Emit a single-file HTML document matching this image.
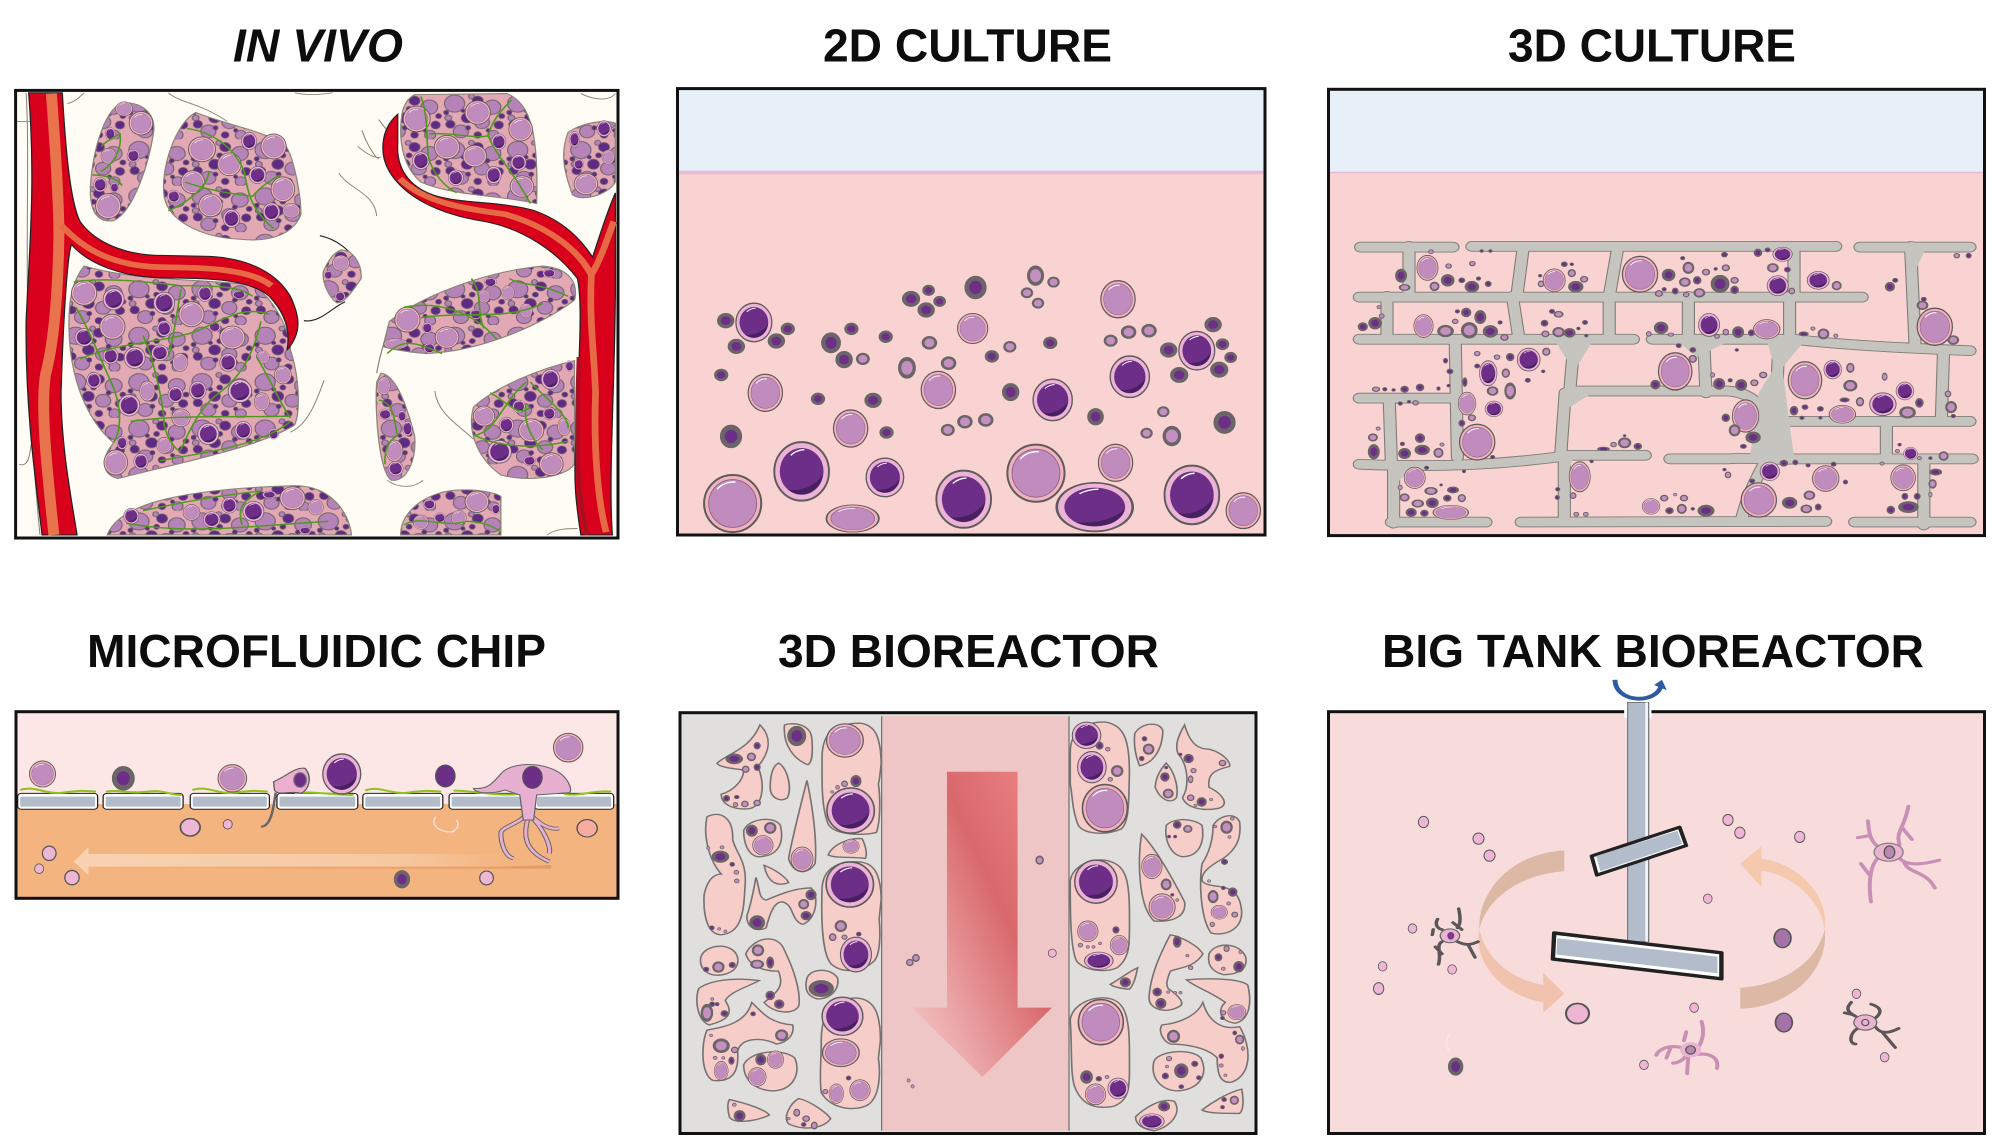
<!DOCTYPE html>
<html><head><meta charset="utf-8"><style>
html,body{margin:0;padding:0;background:#fff}
svg{display:block}
text{font-family:"Liberation Sans",sans-serif;font-weight:bold;font-size:46px;fill:#0d0d0d}
.lb{stroke:#757270;stroke-width:4;fill:#f6cdc9}
.tl{fill:url(#tis);stroke:#8a8578;stroke-width:3}
.gr{fill:none;stroke:#4f9a1c;stroke-width:4}
.fb{fill:none;stroke:#8a8578;stroke-width:2.5}
</style></head><body>
<svg xmlns="http://www.w3.org/2000/svg" width="2000" height="1144" viewBox="0 0 2000 1144">
<defs>
<g id="L"><circle r="1" fill="#f2b4bc" stroke="#5f5a5c" stroke-width=".07"/><circle r=".84" fill="#bf8cbd" stroke="#8b5f88" stroke-width=".03"/><path d="M-.55-.5A.8.8 0 0 1 .1-.75" fill="none" stroke="#fff" stroke-width=".05"/></g>
<g id="D"><circle r="1" fill="#ecb4d4" stroke="#5f5a5c" stroke-width=".07"/><circle r=".8" fill="#6c2e86"/><path d="M.78.1A.8.8 0 0 1-.5.62C0 .7.5.5.78.1Z" fill="#47205f"/><path d="M-.4-.55A.8.8 0 0 1 .1-.74" fill="none" stroke="#fff" stroke-width=".05"/></g>
<g id="s"><circle r=".76" fill="#6c2e86" stroke="#6b6468" stroke-width=".42"/></g>
<g id="l"><circle r=".78" fill="#c490c0" stroke="#6b6468" stroke-width=".34"/></g>
<g id="c"><circle r=".9" fill="#eeb5d4" stroke="#555" stroke-width=".16"/></g>
<pattern id="tis" patternUnits="userSpaceOnUse" width="150" height="130">
<rect width="150" height="130" fill="#e2a8b4"/>
<g fill="#b583b8" stroke="#6d5f68" stroke-width="2.5"><circle cx="30" cy="30" r="24"/><circle cx="120" cy="40" r="20"/><circle cx="95" cy="82" r="18"/><circle cx="45" cy="108" r="18"/><circle cx="122" cy="118" r="13"/><circle cx="15" cy="70" r="8"/><circle cx="70" cy="10" r="7"/></g>
<g fill="#5f2a85" stroke="#6d5f68" stroke-width="2"><circle cx="85" cy="22" r="13"/><circle cx="60" cy="70" r="14"/><circle cx="20" cy="88" r="11"/><circle cx="135" cy="90" r="11"/><circle cx="85" cy="118" r="9"/><circle cx="10" cy="55" r="6"/><circle cx="72" cy="45" r="7"/><circle cx="108" cy="60" r="6"/><circle cx="62" cy="98" r="6"/><circle cx="142" cy="65" r="7"/><circle cx="50" cy="50" r="5"/><circle cx="110" cy="105" r="5"/></g>
</pattern>
<linearGradient id="ar" x1="1" y1="0" x2="0" y2="1"><stop offset="0" stop-color="#f08888"/><stop offset=".4" stop-color="#d8686c"/><stop offset=".75" stop-color="#eba6a8"/><stop offset="1" stop-color="#f3cfcd"/></linearGradient>
<linearGradient id="ar4" x1="0" x2="1" y1="0" y2="0"><stop offset="0" stop-color="#f8d3b3"/><stop offset=".75" stop-color="#f6c8a0"/><stop offset="1" stop-color="#f4b47f"/></linearGradient>
<linearGradient id="ar4b" x1="0" x2="1" y1="0" y2="0"><stop offset="0" stop-color="#f4b47f"/><stop offset="1" stop-color="#e49a63"/></linearGradient>
<path id="sc" fill="none" stroke-linecap="round" d="M115,692H325M368,690H1195M1250,692H1500M112,832H450L700,832H1255M112,950H735M778,950H1100C1200,965 1350,975 1500,982M112,1115H340M590,1095H950C1010,1100 1040,1150 1040,1200M1085,1180H1500M112,1300C300,1310 450,1300 590,1275H762M818,1285H950C1000,1280 1050,1290 1100,1285H1505M185,1462H400M480,1462L1172,1460M1238,1462H1500M225,690L225,830M485,690L470,830M700,690L680,830M1100,690L1100,830M1365,690L1375,960M175,830V950M460,830L475,950M680,830V945M860,830V950M1090,830V960M330,950L335,1280M600,960L590,1100M580,1100L570,1270M895,960L900,1100M1065,980C1060,1100 1060,1200 1040,1280C1010,1350 990,1400 980,1460M1440,980L1435,1170M1310,1180V1280M180,1115L185,1300M190,1300V1465M578,1280V1460M1395,1300V1470"/>
</defs>

<rect width="2000" height="1144" fill="#fff"/>

<!-- PANEL 1 -->
<g transform="scale(.4209 .3571)">
<rect x="37" y="253" width="1431" height="1254" fill="#fefcf4"/>
<path class="fb" d="M62,260C75,500 45,900 95,1498M160,290C180,285 190,270 200,260M400,260C430,290 470,285 540,340M700,260C730,268 760,265 790,260M1380,262C1420,285 1450,280 1462,262M40,340H80M900,335C915,360 930,380 945,400M860,365C870,400 890,440 900,445M850,410C870,430 890,445 905,440M805,485C830,530 890,540 895,605M1033,1095C1040,1160 1090,1190 1125,1230M770,1065C750,1130 730,1190 690,1210M920,1345C950,1370 985,1365 1005,1345M1300,1498C1320,1480 1350,1480 1372,1480M45,1300C70,1310 70,1270 75,1240"/>
<path d="M760,660C800,670 830,700 845,730M722,898C760,905 790,860 820,845" fill="none" stroke="#222" stroke-width="3"/>
<path class="tl" d="M290,288C340,285 370,320 365,370C355,450 320,590 270,618C230,625 212,590 215,520C220,430 245,310 290,288Z"/>
<path class="tl" d="M465,315C540,350 640,370 680,410C700,450 715,550 715,600C700,650 650,680 570,670C480,665 400,620 390,550C380,470 420,340 465,315Z"/>
<path class="tl" d="M985,265L1205,262C1260,290 1280,370 1275,570C1180,545 1080,550 1000,510C960,470 945,400 955,320C960,290 970,275 985,265Z"/>
<path class="tl" d="M1350,370C1390,340 1440,335 1462,345L1462,510C1440,550 1380,565 1360,545C1340,480 1330,430 1350,370Z"/>
<path class="tl" d="M200,745C330,790 500,780 600,800C650,830 690,930 690,980C710,1050 715,1150 700,1190C620,1250 450,1290 280,1340C240,1330 240,1280 270,1240C200,1170 170,1050 165,950C160,850 170,790 200,745Z"/>
<path class="tl" d="M810,700C840,700 860,740 858,780C840,810 820,850 800,848C780,830 765,790 768,760C780,730 790,710 810,700Z"/>
<path class="tl" d="M925,900C1000,830 1150,760 1290,745C1350,750 1375,790 1365,840C1300,900 1150,985 1010,990C960,985 920,975 910,970Z"/>
<path class="tl" d="M905,1045C940,1050 965,1130 985,1220C990,1280 970,1350 930,1345C900,1320 890,1150 895,1070Z"/>
<path class="tl" d="M1365,1010L1365,1300C1340,1340 1250,1350 1190,1330C1130,1280 1110,1200 1125,1140C1180,1080 1290,1030 1365,1010Z"/>
<path class="tl" d="M255,1498C280,1420 400,1370 700,1360C790,1360 830,1440 835,1498Z"/>
<path class="tl" d="M952,1498C950,1430 1020,1370 1100,1372C1150,1370 1185,1385 1190,1390L1190,1498Z"/>
<path d="M895,1045C900,1010 905,990 910,970" fill="none" stroke="#8a8578" stroke-width="3"/>
<g>
<use href="#L" transform="translate(335 345)scale(28 33)"/><use href="#L" transform="translate(295 305)scale(20 20)"/><use href="#L" transform="translate(257 577)scale(30 35)"/><use href="#D" transform="translate(262 375)scale(12 18)"/><use href="#D" transform="translate(317 436)scale(15 18)"/><use href="#D" transform="translate(238 517)scale(16 20)"/><use href="#L" transform="translate(258 437)scale(18 22)"/><use href="#D" transform="translate(272 525)scale(10 14)"/>
<use href="#L" transform="translate(480 418)scale(32 35)"/><use href="#D" transform="translate(592 395)scale(18 24)"/><use href="#L" transform="translate(650 410)scale(30 35)"/><use href="#L" transform="translate(545 460)scale(28 32)"/><use href="#L" transform="translate(458 510)scale(28 32)"/><use href="#D" transform="translate(612 490)scale(20 24)"/><use href="#L" transform="translate(672 530)scale(28 35)"/><use href="#L" transform="translate(500 575)scale(28 32)"/><use href="#D" transform="translate(550 612)scale(20 25)"/><use href="#D" transform="translate(645 593)scale(20 25)"/><use href="#D" transform="translate(413 550)scale(15 18)"/><use href="#L" transform="translate(692 590)scale(20 20)"/>
<use href="#L" transform="translate(990 333)scale(32 36)"/><use href="#L" transform="translate(1135 315)scale(30 33)"/><use href="#L" transform="translate(1237 362)scale(28 33)"/><use href="#L" transform="translate(1062 412)scale(30 33)"/><use href="#L" transform="translate(1128 437)scale(28 30)"/><use href="#D" transform="translate(1185 397)scale(17 22)"/><use href="#D" transform="translate(1000 450)scale(20 25)"/><use href="#D" transform="translate(1083 498)scale(18 22)"/><use href="#D" transform="translate(1173 490)scale(18 24)"/><use href="#D" transform="translate(1232 455)scale(18 22)"/><use href="#L" transform="translate(1240 522)scale(28 30)"/>
<use href="#D" transform="translate(1435 360)scale(17 22)"/><use href="#D" transform="translate(1365 390)scale(12 22)"/><use href="#L" transform="translate(1392 515)scale(28 30)"/><use href="#D" transform="translate(1375 460)scale(12 15)"/><use href="#L" transform="translate(1445 440)scale(15 20)"/>
<use href="#L" transform="translate(200 820)scale(30 35)"/><use href="#D" transform="translate(270 838)scale(25 30)"/><use href="#D" transform="translate(390 848)scale(25 30)"/><use href="#D" transform="translate(487 822)scale(17 22)"/><use href="#L" transform="translate(455 880)scale(30 35)"/><use href="#L" transform="translate(267 915)scale(30 35)"/><use href="#D" transform="translate(390 920)scale(17 22)"/><use href="#D" transform="translate(200 945)scale(22 25)"/><use href="#L" transform="translate(552 945)scale(30 32)"/><use href="#D" transform="translate(263 997)scale(18 22)"/><use href="#D" transform="translate(320 1002)scale(25 30)"/><use href="#D" transform="translate(380 988)scale(20 22)"/><use href="#D" transform="translate(542 1015)scale(20 25)"/><use href="#L" transform="translate(428 1015)scale(18 25)"/><use href="#D" transform="translate(223 1065)scale(17 22)"/><use href="#D" transform="translate(307 1135)scale(25 30)"/><use href="#D" transform="translate(417 1105)scale(18 22)"/><use href="#D" transform="translate(470 1093)scale(20 25)"/><use href="#D" transform="translate(570 1095)scale(28 32)"/><use href="#L" transform="translate(350 1095)scale(18 28)"/><use href="#L" transform="translate(622 1125)scale(18 25)"/><use href="#L" transform="translate(430 1170)scale(22 25)"/><use href="#D" transform="translate(495 1215)scale(25 30)"/><use href="#D" transform="translate(578 1205)scale(20 25)"/><use href="#L" transform="translate(390 1247)scale(18 22)"/><use href="#D" transform="translate(335 1292)scale(17 22)"/><use href="#L" transform="translate(275 1295)scale(28 35)"/><use href="#L" transform="translate(672 1050)scale(20 25)"/><use href="#D" transform="translate(290 1240)scale(12 18)"/><use href="#D" transform="translate(650 1215)scale(12 15)"/><use href="#L" transform="translate(625 1000)scale(15 18)"/><use href="#D" transform="translate(510 915)scale(14 14)"/><use href="#D" transform="translate(568 825)scale(16 12)"/>
<use href="#L" transform="translate(810 737)scale(20 22)"/><use href="#D" transform="translate(808 830)scale(12 14)"/><use href="#D" transform="translate(780 770)scale(10 12)"/>
<use href="#L" transform="translate(968 895)scale(30 35)"/><use href="#L" transform="translate(1062 945)scale(28 30)"/><use href="#L" transform="translate(940 963)scale(28 15)"/><use href="#D" transform="translate(1015 918)scale(12 15)"/><use href="#D" transform="translate(1165 790)scale(15 13)"/><use href="#L" transform="translate(1207 820)scale(15 20)"/><use href="#L" transform="translate(1250 870)scale(15 20)"/><use href="#D" transform="translate(1130 880)scale(14 14)"/><use href="#D" transform="translate(1305 765)scale(15 12)"/><use href="#D" transform="translate(1020 975)scale(14 14)"/><use href="#L" transform="translate(1150 830)scale(14 18)"/>
<use href="#L" transform="translate(912 1080)scale(15 25)"/><use href="#D" transform="translate(915 1160)scale(15 15)"/><use href="#D" transform="translate(955 1165)scale(10 15)"/><use href="#L" transform="translate(937 1262)scale(20 30)"/><use href="#D" transform="translate(940 1312)scale(18 20)"/><use href="#D" transform="translate(968 1200)scale(12 20)"/>
<use href="#D" transform="translate(1308 1062)scale(22 28)"/><use href="#L" transform="translate(1262 1205)scale(30 32)"/><use href="#D" transform="translate(1203 1190)scale(17 22)"/><use href="#D" transform="translate(1187 1265)scale(28 32)"/><use href="#D" transform="translate(1233 1138)scale(15 18)"/><use href="#L" transform="translate(1310 1300)scale(28 32)"/><use href="#L" transform="translate(1150 1165)scale(25 28)"/><use href="#D" transform="translate(1305 1158)scale(15 18)"/><use href="#D" transform="translate(1258 1290)scale(15 14)"/><use href="#D" transform="translate(1353 1025)scale(10 15)"/><use href="#L" transform="translate(1340 1195)scale(15 25)"/>
<use href="#L" transform="translate(695 1395)scale(30 32)"/><use href="#D" transform="translate(545 1415)scale(18 22)"/><use href="#D" transform="translate(602 1432)scale(25 28)"/><use href="#D" transform="translate(312 1445)scale(18 22)"/><use href="#L" transform="translate(455 1435)scale(20 22)"/><use href="#D" transform="translate(503 1455)scale(20 22)"/><use href="#L" transform="translate(750 1420)scale(18 22)"/><use href="#D" transform="translate(640 1385)scale(16 10)"/><use href="#D" transform="translate(725 1485)scale(14 10)"/>
<use href="#L" transform="translate(1133 1405)scale(28 30)"/><use href="#D" transform="translate(1020 1412)scale(15 14)"/><use href="#D" transform="translate(1045 1450)scale(14 14)"/><use href="#L" transform="translate(1000 1462)scale(18 20)"/><use href="#L" transform="translate(1090 1450)scale(18 20)"/><use href="#D" transform="translate(1178 1425)scale(10 15)"/>
</g>
<path class="gr" d="M175,790C250,775 350,790 430,800C500,800 570,800 600,830M190,1005C300,950 420,960 490,915C550,880 590,860 640,880M620,900C600,1000 570,1060 510,1110C470,1150 440,1230 430,1260M180,860C210,920 230,980 260,1060C290,1130 290,1200 270,1240M340,940C370,1020 390,1150 390,1190C400,1240 420,1260 430,1265M380,1290C470,1270 620,1250 690,1180M310,1180C430,1160 580,1170 690,1165M610,1000C650,1080 670,1140 690,1170M430,810C420,880 410,960 400,1000M445,360C510,370 560,420 580,480C590,550 600,590 650,640M440,510C490,530 530,540 600,550C620,520 650,500 665,490M400,590C440,570 490,530 497,480M1000,270C1020,330 1010,400 1020,450C1040,510 1070,530 1085,540M1020,375C1080,370 1130,390 1160,380C1170,330 1200,300 1215,280M1160,380C1180,440 1220,480 1260,570M920,990C960,945 990,960 1050,990M960,860C1050,840 1130,880 1180,950M1120,780C1150,830 1130,870 1150,920M1210,780C1240,800 1280,790 1350,830M1000,890C1100,870 1200,900 1290,850M900,1120C940,1130 935,1180 945,1220C910,1240 915,1290 915,1300M1125,1220C1180,1210 1190,1130 1250,1070M1130,1220C1180,1250 1270,1260 1350,1235M1250,1130C1240,1200 1280,1250 1290,1260M1260,1070C1300,1120 1350,1160 1350,1200M1165,1100C1210,1130 1230,1170 1260,1140M300,1465C450,1500 620,1470 780,1460M340,1430C420,1410 500,1390 620,1375C560,1410 570,1440 575,1470M960,1470C1000,1440 1050,1480 1110,1460C1150,1460 1180,1480 1190,1490M240,480C270,460 290,420 285,375C260,390 250,400 240,410M220,490C250,490 280,500 290,520"/>
<path d="M68,260L148,260C155,400 165,560 190,620C220,670 280,710 370,715L500,718C600,725 660,770 690,830C710,880 720,930 682,980C690,930 680,880 640,830C590,780 500,780 380,778C290,775 210,740 170,685C160,710 150,900 145,1100C145,1250 170,1400 183,1498L100,1498C85,1350 60,1150 62,900C70,700 85,500 68,260Z" fill="#d9001b" stroke="#222" stroke-width="3"/>
<path d="M122,262C132,420 140,560 140,660C138,800 130,950 108,1050C95,1150 115,1350 128,1498" fill="none" stroke="#e9734d" stroke-width="26"/>
<path d="M145,630C200,700 270,745 380,748C480,750 590,750 645,800" fill="none" stroke="#e56a45" stroke-width="16"/>
<path d="M945,320C905,360 900,430 925,480C960,550 1040,600 1150,620C1240,640 1320,700 1372,780C1385,850 1375,1000 1370,1200C1360,1350 1370,1420 1380,1498L1455,1498C1445,1350 1460,1100 1462,820L1462,540C1440,600 1425,660 1408,720C1380,670 1340,620 1270,590C1200,565 1100,570 1040,550C980,530 940,480 945,400Z" fill="#d9001b" stroke="#222" stroke-width="3"/>
<path d="M950,500C1010,570 1110,585 1200,600C1290,630 1370,690 1405,770M1458,620C1440,680 1425,730 1405,770C1400,900 1410,960 1415,1100C1410,1250 1420,1400 1440,1490" fill="none" stroke="#e56a45" stroke-width="16"/>
<path d="M1375,1000C1370,1200 1365,1350 1395,1498" fill="none" stroke="#a80f20" stroke-width="10"/>
</g>

<!-- PANEL 2 -->
<g transform="translate(660 0)scale(.4082 .3571)">
<rect x="43" y="248" width="1439" height="232" fill="#e7eff8"/>
<rect x="43" y="484" width="1439" height="1014" fill="#f9d3d1"/>
<rect x="43" y="478" width="1439" height="10" fill="#eabbd8"/>
<use href="#L" transform="translate(178 1410)scale(70 80)"/><use href="#D" transform="translate(347 1320)scale(67 82)"/><use href="#D" transform="translate(551 1337)scale(46 54)"/><use href="#L" transform="translate(472 1452)scale(64 38)"/><use href="#D" transform="translate(744 1398)scale(67 80)"/><use href="#L" transform="translate(921 1325)scale(70 80)"/><use href="#D" transform="translate(1065 1420)scale(93 68)"/><use href="#L" transform="translate(1116 1296)scale(42 52)"/><use href="#D" transform="translate(1303 1386)scale(67 82)"/><use href="#L" transform="translate(1429 1430)scale(42 50)"/>
<use href="#D" transform="translate(1151 1055)scale(48 58)"/><use href="#D" transform="translate(962 1120)scale(48 58)"/><use href="#L" transform="translate(682 1092)scale(42 52)"/><use href="#L" transform="translate(467 1200)scale(42 52)"/><use href="#L" transform="translate(258 1100)scale(42 52)"/><use href="#s" transform="translate(174 1222)scale(28 34)"/><use href="#L" transform="translate(766 920)scale(37 42)"/><use href="#L" transform="translate(1122 838)scale(42 52)"/><use href="#D" transform="translate(230 903)scale(44 54)"/><use href="#D" transform="translate(1315 982)scale(44 54)"/><use href="#s" transform="translate(773 805)scale(28 34)"/>
<use href="#s" transform="translate(161 898)scale(22)"/><use href="#s" transform="translate(187 970)scale(22)"/><use href="#s" transform="translate(285 955)scale(22)"/><use href="#s" transform="translate(313 921)scale(18)"/><use href="#s" transform="translate(419 960)scale(25 30)"/><use href="#s" transform="translate(469 921)scale(18)"/><use href="#s" transform="translate(451 1007)scale(22 25)"/><use href="#s" transform="translate(553 943)scale(18)"/><use href="#s" transform="translate(150 1050)scale(18)"/><use href="#s" transform="translate(387 1117)scale(18)"/><use href="#s" transform="translate(522 1121)scale(22)"/><use href="#s" transform="translate(555 1211)scale(18)"/><use href="#s" transform="translate(859 1098)scale(22 26)"/><use href="#s" transform="translate(813 998)scale(18)"/><use href="#s" transform="translate(956 960)scale(18)"/><use href="#s" transform="translate(1067 1167)scale(21 25)"/><use href="#s" transform="translate(1383 1183)scale(28 33)"/><use href="#s" transform="translate(1246 980)scale(22)"/><use href="#s" transform="translate(1355 909)scale(22)"/><use href="#s" transform="translate(1378 964)scale(17)"/><use href="#s" transform="translate(1398 1001)scale(16)"/><use href="#s" transform="translate(1370 1035)scale(23)"/><use href="#s" transform="translate(1272 1050)scale(23)"/><use href="#s" transform="translate(615 837)scale(23)"/><use href="#s" transform="translate(658 813)scale(16)"/><use href="#s" transform="translate(685 844)scale(16)"/><use href="#s" transform="translate(652 868)scale(22)"/>
<use href="#l" transform="translate(497 1005)scale(18)"/><use href="#l" transform="translate(660 960)scale(20)"/><use href="#l" transform="translate(707 1017)scale(20)"/><use href="#l" transform="translate(605 1030)scale(23 32)"/><use href="#l" transform="translate(857 971)scale(17)"/><use href="#l" transform="translate(705 1204)scale(18)"/><use href="#l" transform="translate(747 1181)scale(20)"/><use href="#l" transform="translate(798 1176)scale(20)"/><use href="#l" transform="translate(920 772)scale(22 30)"/><use href="#l" transform="translate(964 790)scale(16)"/><use href="#l" transform="translate(899 820)scale(16)"/><use href="#l" transform="translate(926 849)scale(16)"/><use href="#l" transform="translate(1104 954)scale(18)"/><use href="#l" transform="translate(1148 930)scale(20)"/><use href="#l" transform="translate(1198 926)scale(20)"/><use href="#l" transform="translate(1233 1153)scale(16)"/><use href="#l" transform="translate(1192 1213)scale(16)"/><use href="#l" transform="translate(1254 1221)scale(24 30)"/>
</g>

<!-- PANEL 3 -->
<g transform="translate(1310 0)scale(.44 .3571)">
<rect x="42" y="250" width="1491" height="232" fill="#e7eff8"/>
<rect x="42" y="484" width="1491" height="1016" fill="#f9d3d1"/>
<rect x="42" y="481" width="1491" height="4" fill="#eabbd8"/>
<use href="#sc" stroke="#7f7d78" stroke-width="30"/>
<use href="#sc" stroke="#c6c4bf" stroke-width="25"/>
<path d="M560,960H640L600,1040ZM1040,960H1120L1060,1050ZM1000,1285L1080,1180L1080,1280ZM840,960L960,950L880,1000ZM580,1105L650,1095L590,1140ZM200,1310L240,1300L200,1350ZM560,1280L600,1275L585,1330ZM1350,700L1400,695L1375,760ZM1020,1100L1070,1000L1100,1280L1000,1280Z" fill="#c6c4bf"/>
<use href="#L" transform="translate(267 750)scale(24 35)"/><use href="#s" transform="translate(207 772)scale(14 20)"/><use href="#l" transform="translate(215 805)scale(14 10)"/><use href="#s" transform="translate(313 785)scale(16 18)"/><use href="#s" transform="translate(368 803)scale(17 17)"/><use href="#s" transform="translate(405 795)scale(8 9)"/><use href="#l" transform="translate(283 802)scale(12 14)"/><use href="#s" transform="translate(345 785)scale(8 8)"/><use href="#s" transform="translate(383 780)scale(6 6)"/><use href="#l" transform="translate(315 745)scale(8 8)"/><use href="#l" transform="translate(369 738)scale(8 8)"/><use href="#l" transform="translate(275 705)scale(7 7)"/><use href="#s" transform="translate(390 703)scale(5 5)"/><use href="#s" transform="translate(410 703)scale(5 5)"/>
<use href="#L" transform="translate(555 785)scale(25 32)"/><use href="#s" transform="translate(604 803)scale(18 17)"/><use href="#l" transform="translate(595 765)scale(10 12)"/><use href="#l" transform="translate(623 782)scale(10 10)"/><use href="#s" transform="translate(578 740)scale(8 8)"/><use href="#s" transform="translate(595 740)scale(5 5)"/><use href="#l" transform="translate(525 795)scale(8 10)"/><use href="#s" transform="translate(523 772)scale(5 5)"/>
<use href="#L" transform="translate(750 768)scale(40 50)"/><use href="#s" transform="translate(815 770)scale(16 18)"/><use href="#l" transform="translate(860 750)scale(14 18)"/><use href="#s" transform="translate(932 795)scale(22 26)"/><use href="#l" transform="translate(852 790)scale(14 14)"/><use href="#l" transform="translate(885 820)scale(14 14)"/><use href="#l" transform="translate(945 750)scale(10 10)"/><use href="#s" transform="translate(847 723)scale(6 6)"/><use href="#s" transform="translate(942 713)scale(8 8)"/><use href="#s" transform="translate(880 785)scale(10 12)"/><use href="#s" transform="translate(830 815)scale(8 10)"/><use href="#s" transform="translate(805 810)scale(6 6)"/><use href="#l" transform="translate(793 822)scale(10 10)"/><use href="#l" transform="translate(855 825)scale(8 8)"/><use href="#l" transform="translate(900 762)scale(10 10)"/><use href="#s" transform="translate(922 753)scale(5 5)"/><use href="#s" transform="translate(965 812)scale(10 12)"/><use href="#l" transform="translate(965 785)scale(10 10)"/>
<use href="#D" transform="translate(1074 712)scale(22 20)"/><use href="#s" transform="translate(1018 708)scale(10 12)"/><use href="#s" transform="translate(1040 700)scale(7 7)"/><use href="#l" transform="translate(1052 750)scale(14 14)"/><use href="#D" transform="translate(1063 800)scale(24 28)"/><use href="#s" transform="translate(1085 755)scale(8 8)"/><use href="#l" transform="translate(1095 815)scale(8 10)"/>
<use href="#D" transform="translate(1155 785)scale(25 25)"/><use href="#l" transform="translate(1197 800)scale(12 14)"/><use href="#s" transform="translate(1318 803)scale(12 14)"/><use href="#s" transform="translate(1330 785)scale(7 7)"/><use href="#l" transform="translate(1470 716)scale(8 8)"/><use href="#s" transform="translate(1497 716)scale(7 8)"/>
<use href="#s" transform="translate(148 905)scale(16 18)"/><use href="#s" transform="translate(120 915)scale(12 13)"/><use href="#l" transform="translate(157 860)scale(6 6)"/><use href="#l" transform="translate(163 885)scale(7 8)"/>
<use href="#L" transform="translate(258 913)scale(22 32)"/><use href="#l" transform="translate(308 927)scale(20 18)"/><use href="#l" transform="translate(362 925)scale(20 24)"/><use href="#s" transform="translate(387 888)scale(14 20)"/><use href="#s" transform="translate(410 928)scale(18 18)"/><use href="#s" transform="translate(355 875)scale(12 14)"/><use href="#l" transform="translate(330 900)scale(8 8)"/><use href="#s" transform="translate(335 872)scale(6 6)"/><use href="#l" transform="translate(442 945)scale(10 10)"/><use href="#s" transform="translate(432 903)scale(6 6)"/>
<use href="#s" transform="translate(533 905)scale(9 10)"/><use href="#l" transform="translate(565 880)scale(12 10)"/><use href="#l" transform="translate(565 930)scale(15 15)"/><use href="#s" transform="translate(590 932)scale(14 14)"/><use href="#s" transform="translate(550 872)scale(7 7)"/><use href="#l" transform="translate(535 935)scale(10 10)"/><use href="#s" transform="translate(625 903)scale(7 7)"/><use href="#s" transform="translate(610 920)scale(5 5)"/><use href="#s" transform="translate(628 940)scale(5 5)"/>
<use href="#s" transform="translate(798 918)scale(17 18)"/><use href="#l" transform="translate(770 935)scale(7 8)"/><use href="#l" transform="translate(820 937)scale(8 6)"/>
<use href="#D" transform="translate(907 910)scale(24 32)"/><use href="#s" transform="translate(973 930)scale(14 17)"/><use href="#L" transform="translate(1038 922)scale(30 27)"/><use href="#l" transform="translate(945 930)scale(8 10)"/><use href="#s" transform="translate(1003 932)scale(8 10)"/><use href="#l" transform="translate(925 942)scale(7 7)"/>
<use href="#s" transform="translate(1122 935)scale(12 7)"/><use href="#l" transform="translate(1167 935)scale(14 16)"/><use href="#l" transform="translate(1143 920)scale(6 6)"/><use href="#l" transform="translate(1195 940)scale(6 6)"/>
<use href="#L" transform="translate(1420 915)scale(40 52)"/><use href="#l" transform="translate(1392 855)scale(14 14)"/><use href="#s" transform="translate(1395 838)scale(7 7)"/><use href="#l" transform="translate(1462 952)scale(14 14)"/>
<use href="#L" transform="translate(830 1040)scale(38 52)"/><use href="#s" transform="translate(785 1077)scale(12 14)"/><use href="#l" transform="translate(870 1005)scale(10 12)"/><use href="#s" transform="translate(838 968)scale(7 7)"/><use href="#s" transform="translate(870 980)scale(8 8)"/>
<use href="#s" transform="translate(930 1075)scale(14 17)"/><use href="#s" transform="translate(980 1078)scale(14 17)"/><use href="#l" transform="translate(1010 1072)scale(10 10)"/><use href="#l" transform="translate(1030 1050)scale(10 10)"/><use href="#s" transform="translate(955 1065)scale(6 6)"/><use href="#l" transform="translate(915 1050)scale(6 8)"/><use href="#s" transform="translate(970 980)scale(5 5)"/>
<use href="#L" transform="translate(1125 1065)scale(38 52)"/><use href="#D" transform="translate(1188 1035)scale(20 26)"/><use href="#l" transform="translate(1228 1030)scale(10 15)"/><use href="#l" transform="translate(1228 1080)scale(17 17)"/><use href="#s" transform="translate(1215 1120)scale(12 7)"/><use href="#D" transform="translate(1302 1132)scale(30 32)"/><use href="#L" transform="translate(1210 1160)scale(30 25)"/><use href="#l" transform="translate(1250 1125)scale(10 14)"/><use href="#D" transform="translate(1352 1095)scale(20 25)"/><use href="#l" transform="translate(1358 1155)scale(20 18)"/><use href="#s" transform="translate(1385 1128)scale(10 14)"/><use href="#s" transform="translate(1100 1150)scale(10 14)"/><use href="#s" transform="translate(1125 1140)scale(8 8)"/><use href="#s" transform="translate(1160 1145)scale(8 8)"/><use href="#s" transform="translate(1118 1170)scale(6 6)"/><use href="#s" transform="translate(1160 1170)scale(5 5)"/><use href="#l" transform="translate(1306 1055)scale(7 12)"/>
<use href="#D" transform="translate(497 1007)scale(26 32)"/><use href="#D" transform="translate(405 1045)scale(20 35)"/><use href="#l" transform="translate(445 1045)scale(10 14)"/><use href="#l" transform="translate(455 1095)scale(14 25)"/><use href="#l" transform="translate(415 1095)scale(14 14)"/><use href="#L" transform="translate(357 1130)scale(20 32)"/><use href="#D" transform="translate(418 1145)scale(20 22)"/><use href="#l" transform="translate(368 1170)scale(10 10)"/><use href="#s" transform="translate(352 1070)scale(6 14)"/><use href="#s" transform="translate(380 1025)scale(7 7)"/><use href="#s" transform="translate(455 1000)scale(10 12)"/><use href="#l" transform="translate(425 1000)scale(8 8)"/><use href="#l" transform="translate(380 990)scale(8 8)"/><use href="#s" transform="translate(495 1065)scale(7 7)"/><use href="#s" transform="translate(530 1040)scale(5 5)"/><use href="#l" transform="translate(537 985)scale(10 12)"/>
<use href="#L" transform="translate(380 1238)scale(40 50)"/><use href="#s" transform="translate(345 1185)scale(8 10)"/><use href="#s" transform="translate(415 1280)scale(6 6)"/>
<use href="#s" transform="translate(170 1090)scale(6 6)"/><use href="#s" transform="translate(215 1090)scale(10 10)"/><use href="#s" transform="translate(250 1085)scale(10 11)"/><use href="#s" transform="translate(292 1088)scale(5 6)"/><use href="#l" transform="translate(150 1090)scale(10 8)"/><use href="#s" transform="translate(315 1080)scale(5 5)"/><use href="#s" transform="translate(318 1040)scale(8 8)"/><use href="#s" transform="translate(308 1010)scale(6 8)"/><use href="#s" transform="translate(190 1092)scale(5 5)"/>
<use href="#L" transform="translate(990 1165)scale(30 45)"/><use href="#l" transform="translate(965 1205)scale(14 18)"/><use href="#s" transform="translate(1007 1225)scale(18 17)"/><use href="#s" transform="translate(945 1170)scale(10 12)"/><use href="#s" transform="translate(985 1250)scale(8 7)"/>
<use href="#l" transform="translate(1457 1140)scale(14 18)"/><use href="#l" transform="translate(1450 1103)scale(8 10)"/><use href="#s" transform="translate(1462 1165)scale(6 6)"/>
<use href="#s" transform="translate(145 1265)scale(14 22)"/><use href="#l" transform="translate(143 1225)scale(12 12)"/><use href="#l" transform="translate(155 1200)scale(6 6)"/><use href="#s" transform="translate(250 1227)scale(12 14)"/><use href="#s" transform="translate(255 1260)scale(18 15)"/><use href="#s" transform="translate(215 1270)scale(15 16)"/><use href="#l" transform="translate(292 1268)scale(12 15)"/><use href="#s" transform="translate(210 1243)scale(6 6)"/><use href="#l" transform="translate(300 1245)scale(6 6)"/><use href="#l" transform="translate(240 1128)scale(8 8)"/><use href="#s" transform="translate(205 1130)scale(6 6)"/><use href="#s" transform="translate(225 1125)scale(5 5)"/>
<use href="#l" transform="translate(715 1240)scale(16 16)"/><use href="#s" transform="translate(745 1250)scale(10 10)"/><use href="#s" transform="translate(667 1257)scale(15 6)"/><use href="#l" transform="translate(690 1245)scale(8 8)"/><use href="#s" transform="translate(715 1220)scale(4 4)"/>
<use href="#D" transform="translate(1365 1270)scale(16 18)"/><use href="#l" transform="translate(1440 1277)scale(12 14)"/><use href="#s" transform="translate(1340 1245)scale(5 5)"/><use href="#l" transform="translate(1335 1263)scale(6 6)"/><use href="#l" transform="translate(1385 1283)scale(6 6)"/><use href="#s" transform="translate(1410 1283)scale(5 5)"/>
<use href="#L" transform="translate(238 1338)scale(24 30)"/><use href="#s" transform="translate(265 1310)scale(6 6)"/><use href="#s" transform="translate(350 1320)scale(5 5)"/><use href="#l" transform="translate(275 1375)scale(16 12)"/><use href="#s" transform="translate(325 1372)scale(14 10)"/><use href="#l" transform="translate(345 1395)scale(10 12)"/><use href="#s" transform="translate(278 1408)scale(15 15)"/><use href="#l" transform="translate(245 1410)scale(15 12)"/><use href="#s" transform="translate(230 1435)scale(13 13)"/><use href="#s" transform="translate(260 1437)scale(10 10)"/><use href="#l" transform="translate(215 1393)scale(12 12)"/><use href="#L" transform="translate(320 1435)scale(40 20)"/><use href="#s" transform="translate(312 1395)scale(10 10)"/><use href="#l" transform="translate(205 1365)scale(6 8)"/><use href="#s" transform="translate(298 1358)scale(4 4)"/>
<use href="#L" transform="translate(613 1335)scale(24 42)"/><use href="#s" transform="translate(563 1370)scale(6 6)"/><use href="#s" transform="translate(562 1393)scale(6 7)"/><use href="#l" transform="translate(598 1388)scale(8 10)"/><use href="#l" transform="translate(605 1440)scale(7 7)"/><use href="#l" transform="translate(627 1440)scale(7 7)"/><use href="#s" transform="translate(640 1292)scale(5 5)"/>
<use href="#L" transform="translate(775 1418)scale(20 22)"/><use href="#l" transform="translate(805 1395)scale(10 10)"/><use href="#l" transform="translate(850 1395)scale(10 10)"/><use href="#s" transform="translate(817 1430)scale(10 10)"/><use href="#l" transform="translate(845 1425)scale(12 15)"/><use href="#s" transform="translate(900 1430)scale(20 17)"/><use href="#s" transform="translate(870 1425)scale(5 5)"/><use href="#l" transform="translate(830 1385)scale(5 5)"/><use href="#l" transform="translate(950 1330)scale(8 10)"/><use href="#s" transform="translate(942 1315)scale(5 5)"/>
<use href="#D" transform="translate(1045 1320)scale(22 26)"/><use href="#L" transform="translate(1020 1400)scale(40 48)"/><use href="#s" transform="translate(1077 1297)scale(10 10)"/><use href="#s" transform="translate(1103 1295)scale(7 8)"/><use href="#s" transform="translate(1132 1303)scale(6 6)"/><use href="#s" transform="translate(1190 1300)scale(7 7)"/><use href="#s" transform="translate(1005 1347)scale(7 7)"/><use href="#s" transform="translate(1090 1408)scale(18 17)"/><use href="#L" transform="translate(1172 1340)scale(30 36)"/><use href="#s" transform="translate(1217 1350)scale(6 7)"/><use href="#l" transform="translate(1135 1387)scale(14 14)"/><use href="#l" transform="translate(1128 1425)scale(14 13)"/><use href="#s" transform="translate(1155 1420)scale(8 10)"/>
<use href="#L" transform="translate(1348 1338)scale(28 36)"/><use href="#l" transform="translate(1415 1355)scale(10 14)"/><use href="#s" transform="translate(1422 1322)scale(15 10)"/><use href="#s" transform="translate(1352 1390)scale(8 10)"/><use href="#s" transform="translate(1380 1390)scale(8 10)"/><use href="#s" transform="translate(1360 1420)scale(24 17)"/><use href="#s" transform="translate(1320 1428)scale(10 12)"/><use href="#l" transform="translate(1300 1298)scale(6 6)"/><use href="#l" transform="translate(1410 1385)scale(5 8)"/>
</g>

<!-- PANEL 4 -->
<g transform="translate(0 600)scale(.4209 .3333)">
<rect x="38" y="335" width="1430" height="280" fill="#fce6e6"/>
<rect x="38" y="612" width="1430" height="283" fill="#f4b47f"/>
<path d="M1190,800L1310,795V806H210V800Z" fill="url(#ar4b)"/>
<path d="M175,785L210,742V762H1200V800H210V825Z" fill="url(#ar4)"/>
<g stroke="#222" stroke-width="3" fill="#fff">
<rect x="42" y="580" width="190" height="48" rx="9"/><rect x="245" y="580" width="190" height="48" rx="9"/><rect x="452" y="580" width="188" height="48" rx="9"/><rect x="658" y="580" width="192" height="48" rx="9"/><rect x="862" y="580" width="190" height="48" rx="9"/><rect x="1067" y="580" width="190" height="48" rx="9"/><rect x="1270" y="580" width="188" height="48" rx="9"/></g>
<g fill="#b3bdca"><rect x="48" y="590" width="178" height="30" rx="4"/><rect x="251" y="590" width="178" height="30" rx="4"/><rect x="458" y="590" width="176" height="30" rx="4"/><rect x="664" y="590" width="180" height="30" rx="4"/><rect x="868" y="590" width="178" height="30" rx="4"/><rect x="1073" y="590" width="178" height="30" rx="4"/><rect x="1276" y="590" width="176" height="30" rx="4"/></g>
<path d="M48,570C80,555 110,585 150,578S200,572 228,575M252,575C280,568 310,582 350,575S400,585 432,585M457,570C490,555 520,585 560,578S610,572 636,575M700,580C740,572 780,585 840,585M868,572C900,555 930,585 970,578S1020,572 1048,575M1078,572C1110,570 1180,590 1230,582M1340,582C1380,590 1410,570 1452,575" fill="none" stroke="#8fc31f" stroke-width="6"/>
<use href="#L" transform="translate(101 522)scale(31 39)"/><use href="#s" transform="translate(293 535)scale(28 38)"/><use href="#L" transform="translate(552 535)scale(34 41)"/><use href="#D" transform="translate(812 522)scale(45 60)"/><use href="#L" transform="translate(1350 443)scale(35 43)"/>
<ellipse cx="1058" cy="528" rx="23" ry="33" fill="#6c2e86" stroke="#555" stroke-width="3"/>
<path d="M650,545C680,530 700,500 725,505C742,530 735,570 715,580C690,570 660,590 652,570Z" fill="#ecafcf" stroke="#555" stroke-width="3"/>
<ellipse cx="713" cy="540" rx="15" ry="22" fill="#6c2e86" stroke="#777" stroke-width="3"/>
<path d="M655,578C650,620 645,680 620,680" fill="none" stroke="#666" stroke-width="6"/>
<path d="M1250,640C1240,670 1190,680 1190,700C1190,730 1200,770 1220,775M1255,650C1245,700 1240,750 1305,785M1260,650C1290,680 1310,740 1305,760M1265,650C1290,680 1310,690 1328,685" fill="none" stroke="#666" stroke-width="12"/>
<path d="M1250,640C1240,670 1190,680 1190,700C1190,730 1200,770 1220,775M1255,650C1245,700 1240,750 1305,785M1260,650C1290,680 1310,740 1305,760M1265,650C1290,680 1310,690 1328,685" fill="none" stroke="#e8b0d0" stroke-width="7"/>
<path d="M1125,565C1165,570 1175,540 1195,515C1230,480 1310,490 1340,530C1358,555 1358,575 1352,578L1275,585L1268,660H1243L1235,585L1200,570C1170,582 1130,582 1125,565Z" fill="#e8b0d0" stroke="#666" stroke-width="3"/>
<ellipse cx="1265" cy="532" rx="23" ry="33" fill="#6c2e86" stroke="#555" stroke-width="3"/>
<use href="#c" transform="translate(452 682)scale(26 29)"/><use href="#c" transform="translate(541 673)scale(12 16)"/><use href="#c" transform="translate(117 760)scale(18 24)"/><use href="#c" transform="translate(93 806)scale(12 16)"/><use href="#c" transform="translate(171 833)scale(19 24)"/><use href="#c" transform="translate(1156 834)scale(18 23)"/>
<ellipse cx="1395" cy="685" rx="24" ry="26" fill="#f7aaa0" stroke="#444" stroke-width="3"/>
<use href="#s" transform="translate(955 838)scale(20 28)"/>
<path d="M1035,650C1020,680 1050,700 1080,695M1085,660C1095,680 1080,700 1060,695" fill="none" stroke="#fbe6ea" stroke-width="3"/>
</g>

<!-- PANEL 5 -->
<g transform="translate(660 600)scale(.4082 .3469)">
<rect x="49" y="325" width="1411" height="1213" fill="#e0dfdd"/>
<rect x="543" y="335" width="459" height="1195" fill="#eec6c5"/>
<path d="M703,495H876V1175H960L790,1375L617,1175H703Z" fill="url(#ar)"/>
<path d="M543,335V1530M1002,335V1530" stroke="#70706c" stroke-width="3" fill="none"/>
<path class="lb" d="M245,360C270,390 275,430 240,480C260,540 250,600 215,602C180,605 150,590 150,560C180,550 205,520 205,490C170,485 140,480 140,470C170,440 220,430 245,360Z"/>
<path class="lb" d="M305,360C330,350 370,360 372,400C375,440 372,470 362,475C330,460 300,420 305,360Z"/>
<path class="lb" d="M290,470C310,480 325,540 312,570C295,585 270,570 270,540C270,510 275,480 290,470Z"/>
<path class="lb" d="M360,520C375,600 385,700 380,760C360,795 325,790 315,745C325,680 345,590 360,520Z"/>
<path class="lb" d="M115,625C150,605 180,630 178,690C185,730 215,750 208,830C205,900 200,960 150,965C120,965 105,920 108,850C115,810 130,790 150,790C120,750 105,680 115,625Z"/>
<path class="lb" d="M205,665C215,630 280,620 295,650C305,700 290,740 240,740C215,735 205,700 205,665Z"/>
<path class="lb" d="M255,765C280,775 310,800 315,815C290,825 265,820 255,765Z"/>
<path class="lb" d="M235,800C245,830 240,860 260,865C290,850 330,830 370,830C390,850 385,920 350,935C320,925 330,880 300,870C280,870 270,900 260,945C235,960 210,940 213,910C225,870 230,830 235,800Z"/>
<path class="lb" d="M100,1030C110,990 180,985 190,1030C195,1060 175,1080 140,1082C115,1082 95,1060 100,1030Z"/>
<path class="lb" d="M210,1020C230,970 290,960 305,1010C330,1070 345,1130 340,1170C330,1195 280,1195 255,1160C290,1130 305,1110 290,1070C260,1070 220,1060 210,1020Z"/>
<path class="lb" d="M360,1090C370,1060 420,1060 435,1090C440,1120 420,1150 385,1150C355,1140 355,1115 360,1090Z"/>
<path class="lb" d="M95,1120C130,1090 200,1090 243,1097C215,1115 170,1130 160,1155C180,1190 170,1210 120,1225C90,1210 85,1150 95,1120Z"/>
<path class="lb" d="M225,1160C250,1190 270,1220 325,1225C330,1250 315,1275 285,1280C250,1260 200,1260 190,1300C195,1370 170,1390 130,1385C100,1370 100,1280 115,1240C160,1230 210,1220 225,1160Z"/>
<path class="lb" d="M205,1340C220,1300 300,1290 330,1320C345,1360 330,1410 280,1415C240,1415 205,1390 205,1340Z"/>
<path class="lb" d="M170,1440C210,1450 260,1470 268,1485C230,1505 180,1510 170,1490C165,1470 165,1450 170,1440Z"/>
<path class="lb" d="M340,1437C370,1445 410,1480 418,1495C400,1525 350,1530 315,1510C300,1490 320,1450 340,1437Z"/>
<path class="lb" d="M397,460C395,370 440,355 490,355C530,360 540,400 542,470C538,510 538,520 535,530C540,570 540,640 530,670C500,680 420,680 410,640C395,590 397,520 397,460Z"/>
<path class="lb" d="M412,735C425,700 470,685 495,688C505,710 508,735 503,745C470,740 430,745 412,735Z"/>
<path class="lb" d="M397,830C400,770 440,752 490,755C530,760 540,800 542,860L537,920C540,960 540,1020 525,1040C500,1070 450,1080 420,1050C395,1020 395,900 397,830Z"/>
<path class="lb" d="M395,1270C395,1190 420,1150 480,1147C525,1150 540,1190 540,1270L535,1320C540,1360 540,1430 510,1455C480,1475 420,1470 395,1420C390,1380 395,1330 395,1270Z"/>
<path class="lb" d="M1005,440C1005,370 1050,350 1090,352C1140,360 1150,410 1150,500C1148,580 1150,640 1130,660C1090,680 1040,675 1025,650C1010,610 1010,560 1005,530Z"/>
<path class="lb" d="M1005,810C1010,770 1050,745 1090,750C1140,760 1150,800 1150,900C1150,980 1155,1030 1120,1060C1090,1075 1040,1070 1020,1040C1005,1000 1005,900 1005,810Z"/>
<path class="lb" d="M1005,1210C1010,1170 1050,1145 1090,1147C1140,1150 1150,1200 1150,1300C1150,1400 1155,1440 1110,1460C1060,1470 1030,1450 1015,1400C1005,1360 1010,1300 1005,1210Z"/>
<path class="lb" d="M1163,385C1180,350 1230,350 1232,380C1230,430 1210,470 1175,478C1165,450 1160,420 1163,385Z"/>
<path class="lb" d="M1285,360C1295,400 1310,430 1345,430C1380,440 1400,470 1395,480C1360,490 1340,500 1345,540C1380,560 1395,590 1370,600C1330,610 1290,600 1280,570C1300,530 1290,470 1270,445C1260,420 1270,390 1285,360Z"/>
<path class="lb" d="M1240,470C1265,500 1270,550 1265,570C1250,590 1225,575 1213,540C1215,510 1225,490 1240,470Z"/>
<path class="lb" d="M1240,650C1260,625 1310,630 1328,650C1335,700 1320,740 1280,740C1250,735 1235,690 1240,650Z"/>
<path class="lb" d="M1355,650C1370,620 1410,610 1420,640C1425,690 1410,720 1380,745C1340,770 1325,790 1328,810C1350,840 1420,800 1425,900C1425,950 1385,970 1350,960C1325,920 1320,820 1328,760C1345,730 1355,690 1355,650Z"/>
<path class="lb" d="M1180,675C1210,710 1250,790 1285,870C1290,910 1260,930 1210,925C1170,880 1170,740 1180,675Z"/>
<path class="lb" d="M1250,965C1280,970 1320,1000 1330,1020C1310,1060 1270,1060 1250,1070C1240,1100 1240,1110 1245,1120C1270,1140 1285,1160 1275,1170C1240,1195 1200,1180 1198,1150C1200,1080 1230,1010 1250,965Z"/>
<path class="lb" d="M1345,1020C1360,985 1420,985 1435,1030C1440,1060 1420,1080 1380,1080C1350,1070 1340,1050 1345,1020Z"/>
<path class="lb" d="M1170,1060C1165,1090 1160,1110 1150,1122C1130,1120 1110,1115 1103,1108C1130,1090 1150,1070 1170,1060Z"/>
<path class="lb" d="M1290,1095C1340,1090 1420,1090 1440,1110C1450,1160 1445,1210 1410,1220C1370,1215 1365,1180 1385,1160C1350,1130 1310,1115 1290,1095Z"/>
<path class="lb" d="M1330,1160C1345,1220 1380,1240 1420,1230C1450,1290 1450,1370 1400,1390C1370,1395 1365,1360 1365,1320C1340,1290 1290,1280 1250,1280C1230,1270 1220,1240 1230,1225C1270,1220 1315,1200 1330,1160Z"/>
<path class="lb" d="M1210,1330C1220,1300 1300,1290 1325,1320C1345,1370 1320,1410 1270,1415C1230,1415 1200,1380 1210,1330Z"/>
<path class="lb" d="M1425,1410C1430,1440 1430,1470 1420,1480C1380,1480 1340,1480 1328,1470C1350,1450 1390,1420 1425,1410Z"/>
<path class="lb" d="M1165,1490C1190,1460 1230,1435 1260,1445C1280,1480 1250,1520 1210,1530C1180,1525 1165,1510 1165,1490Z"/>
<use href="#L" transform="translate(453 405)scale(45 48)"/><use href="#D" transform="translate(467 607)scale(58 65)"/><use href="#s" transform="translate(480 522)scale(14 18)"/><use href="#l" transform="translate(452 530)scale(9 10)"/><use href="#l" transform="translate(435 540)scale(6 7)"/><use href="#l" transform="translate(422 553)scale(5 5)"/><use href="#L" transform="translate(468 710)scale(20 20)"/><use href="#D" transform="translate(465 820)scale(58 65)"/><use href="#l" transform="translate(443 940)scale(16 18)"/><use href="#l" transform="translate(423 972)scale(10 12)"/><use href="#l" transform="translate(452 972)scale(8 8)"/><use href="#s" transform="translate(487 963)scale(7 7)"/><use href="#D" transform="translate(480 1022)scale(38 50)"/><use href="#D" transform="translate(447 1200)scale(50 55)"/><use href="#L" transform="translate(443 1305)scale(45 40)"/><use href="#s" transform="translate(462 1378)scale(7 7)"/><use href="#L" transform="translate(490 1413)scale(25 30)"/><use href="#L" transform="translate(432 1423)scale(18 28)"/><use href="#l" transform="translate(405 1417)scale(8 8)"/>
<use href="#D" transform="translate(1045 390)scale(35 38)"/><use href="#D" transform="translate(1058 482)scale(35 45)"/><use href="#l" transform="translate(1120 493)scale(16 18)"/><use href="#s" transform="translate(1077 420)scale(10 12)"/><use href="#l" transform="translate(1097 430)scale(7 7)"/><use href="#l" transform="translate(1103 517)scale(7 7)"/><use href="#L" transform="translate(1090 600)scale(55 68)"/><use href="#D" transform="translate(1068 812)scale(52 62)"/><use href="#L" transform="translate(1048 955)scale(25 30)"/><use href="#s" transform="translate(1117 951)scale(9 11)"/><use href="#L" transform="translate(1125 995)scale(22 28)"/><use href="#D" transform="translate(1075 1040)scale(35 25)"/><use href="#l" transform="translate(1048 1000)scale(5 5)"/><use href="#l" transform="translate(1030 995)scale(7 7)"/><use href="#l" transform="translate(1062 1000)scale(5 5)"/><use href="#l" transform="translate(1078 990)scale(5 5)"/><use href="#L" transform="translate(1080 1217)scale(55 65)"/><use href="#s" transform="translate(1045 1375)scale(16 20)"/><use href="#s" transform="translate(1075 1380)scale(8 8)"/><use href="#l" transform="translate(1095 1375)scale(6 6)"/><use href="#D" transform="translate(1122 1408)scale(25 30)"/><use href="#L" transform="translate(1067 1425)scale(25 30)"/>
<use href="#s" transform="translate(182 458)scale(22 16)"/><use href="#l" transform="translate(224 452)scale(12 13)"/><use href="#l" transform="translate(210 488)scale(10 11)"/><use href="#s" transform="translate(238 482)scale(9 11)"/><use href="#s" transform="translate(238 420)scale(9 11)"/><use href="#s" transform="translate(163 572)scale(9 10)"/><use href="#l" transform="translate(185 590)scale(7 8)"/><use href="#l" transform="translate(208 588)scale(10 10)"/><use href="#l" transform="translate(238 585)scale(10 10)"/><use href="#s" transform="translate(188 568)scale(7 6)"/>
<use href="#s" transform="translate(335 392)scale(24 30)"/><use href="#L" transform="translate(348 747)scale(27 35)"/><use href="#s" transform="translate(225 665)scale(15 18)"/><use href="#l" transform="translate(270 657)scale(16 18)"/><use href="#L" transform="translate(252 707)scale(25 28)"/><use href="#s" transform="translate(148 740)scale(22 18)"/><use href="#l" transform="translate(118 715)scale(5 6)"/><use href="#l" transform="translate(152 713)scale(6 6)"/><use href="#s" transform="translate(177 762)scale(7 7)"/><use href="#l" transform="translate(187 785)scale(7 7)"/><use href="#l" transform="translate(188 810)scale(7 7)"/><use href="#s" transform="translate(127 945)scale(7 7)"/><use href="#l" transform="translate(145 948)scale(5 5)"/><use href="#l" transform="translate(160 955)scale(5 5)"/>
<use href="#s" transform="translate(238 930)scale(20 22)"/><use href="#s" transform="translate(370 850)scale(14 16)"/><use href="#l" transform="translate(352 877)scale(14 16)"/><use href="#s" transform="translate(358 910)scale(14 14)"/><use href="#l" transform="translate(143 1058)scale(16 17)"/><use href="#s" transform="translate(113 1065)scale(8 8)"/><use href="#s" transform="translate(177 1052)scale(9 9)"/><use href="#l" transform="translate(240 1010)scale(16 18)"/><use href="#l" transform="translate(238 1050)scale(18 14)"/><use href="#s" transform="translate(270 1045)scale(10 18)"/><use href="#s" transform="translate(270 1140)scale(12 14)"/><use href="#s" transform="translate(292 1165)scale(13 14)"/><use href="#s" transform="translate(395 1120)scale(32 25)"/><use href="#l" transform="translate(115 1190)scale(16 27)"/><use href="#s" transform="translate(128 1165)scale(8 8)"/><use href="#s" transform="translate(140 1165)scale(6 6)"/><use href="#l" transform="translate(128 1150)scale(5 5)"/><use href="#s" transform="translate(158 1192)scale(10 10)"/>
<use href="#s" transform="translate(228 1193)scale(7 7)"/><use href="#l" transform="translate(298 1255)scale(17 18)"/><use href="#l" transform="translate(150 1285)scale(22 22)"/><use href="#l" transform="translate(183 1297)scale(10 10)"/><use href="#L" transform="translate(150 1357)scale(17 27)"/><use href="#l" transform="translate(125 1255)scale(5 5)"/><use href="#l" transform="translate(135 1320)scale(6 6)"/><use href="#l" transform="translate(155 1320)scale(5 5)"/><use href="#s" transform="translate(175 1328)scale(8 12)"/><use href="#L" transform="translate(283 1325)scale(20 25)"/><use href="#s" transform="translate(247 1325)scale(14 17)"/><use href="#L" transform="translate(238 1375)scale(22 27)"/><use href="#s" transform="translate(195 1487)scale(15 17)"/><use href="#l" transform="translate(182 1455)scale(6 6)"/><use href="#l" transform="translate(335 1478)scale(9 12)"/><use href="#l" transform="translate(358 1495)scale(10 10)"/><use href="#l" transform="translate(378 1515)scale(9 12)"/><use href="#l" transform="translate(315 1495)scale(5 5)"/><use href="#s" transform="translate(352 1512)scale(7 7)"/>
<use href="#l" transform="translate(1197 430)scale(15 17)"/><use href="#s" transform="translate(1187 400)scale(7 8)"/><use href="#s" transform="translate(1180 457)scale(7 8)"/><use href="#s" transform="translate(1295 457)scale(13 14)"/><use href="#s" transform="translate(1275 445)scale(5 5)"/><use href="#l" transform="translate(1378 470)scale(10 10)"/><use href="#l" transform="translate(1307 492)scale(8 8)"/><use href="#l" transform="translate(1300 517)scale(7 12)"/><use href="#s" transform="translate(1327 582)scale(13 14)"/><use href="#l" transform="translate(1300 570)scale(10 10)"/><use href="#l" transform="translate(1350 575)scale(5 5)"/><use href="#l" transform="translate(1312 592)scale(5 5)"/><use href="#s" transform="translate(1237 510)scale(12 14)"/><use href="#s" transform="translate(1240 483)scale(5 5)"/><use href="#l" transform="translate(1245 558)scale(14 15)"/><use href="#s" transform="translate(1267 648)scale(11 12)"/><use href="#l" transform="translate(1293 660)scale(12 12)"/><use href="#s" transform="translate(1247 682)scale(5 5)"/><use href="#s" transform="translate(1262 682)scale(5 5)"/>
<use href="#l" transform="translate(1388 655)scale(16 20)"/><use href="#l" transform="translate(1402 630)scale(6 6)"/><use href="#l" transform="translate(1360 653)scale(5 5)"/><use href="#l" transform="translate(1395 683)scale(5 5)"/><use href="#s" transform="translate(1383 755)scale(9 9)"/><use href="#l" transform="translate(1355 855)scale(14 20)"/><use href="#s" transform="translate(1403 842)scale(12 14)"/><use href="#L" transform="translate(1370 900)scale(20 20)"/><use href="#l" transform="translate(1345 810)scale(5 5)"/><use href="#s" transform="translate(1380 830)scale(6 6)"/><use href="#l" transform="translate(1393 875)scale(6 6)"/><use href="#l" transform="translate(1408 907)scale(9 9)"/><use href="#l" transform="translate(1353 935)scale(7 8)"/>
<use href="#L" transform="translate(1205 768)scale(25 35)"/><use href="#L" transform="translate(1230 885)scale(32 38)"/><use href="#l" transform="translate(1240 820)scale(14 18)"/><use href="#l" transform="translate(1267 865)scale(5 5)"/><use href="#s" transform="translate(1255 850)scale(5 5)"/><use href="#s" transform="translate(1267 985)scale(11 18)"/><use href="#l" transform="translate(1292 1025)scale(5 5)"/><use href="#l" transform="translate(1300 1060)scale(7 7)"/><use href="#s" transform="translate(1218 1130)scale(12 13)"/><use href="#s" transform="translate(1227 1163)scale(14 16)"/><use href="#l" transform="translate(1245 1130)scale(5 5)"/><use href="#l" transform="translate(1262 1132)scale(5 5)"/><use href="#l" transform="translate(1275 1132)scale(5 5)"/>
<use href="#s" transform="translate(1368 1030)scale(10 12)"/><use href="#l" transform="translate(1388 1005)scale(8 10)"/><use href="#s" transform="translate(1418 1057)scale(14 17)"/><use href="#l" transform="translate(1380 1063)scale(6 6)"/><use href="#l" transform="translate(1422 1015)scale(5 6)"/><use href="#s" transform="translate(1140 1102)scale(14 15)"/><use href="#L" transform="translate(1413 1188)scale(22 22)"/><use href="#l" transform="translate(1380 1190)scale(8 8)"/><use href="#s" transform="translate(1378 1205)scale(6 6)"/><use href="#l" transform="translate(1258 1258)scale(17 20)"/><use href="#l" transform="translate(1420 1267)scale(12 15)"/><use href="#s" transform="translate(1408 1248)scale(6 7)"/><use href="#l" transform="translate(1428 1293)scale(5 7)"/><use href="#s" transform="translate(1375 1315)scale(7 8)"/><use href="#l" transform="translate(1385 1370)scale(5 5)"/><use href="#l" transform="translate(1375 1342)scale(6 6)"/>
<use href="#s" transform="translate(1277 1357)scale(18 22)"/><use href="#l" transform="translate(1247 1322)scale(8 8)"/><use href="#s" transform="translate(1238 1372)scale(9 10)"/><use href="#s" transform="translate(1310 1337)scale(9 9)"/><use href="#l" transform="translate(1242 1345)scale(5 5)"/><use href="#s" transform="translate(1320 1377)scale(7 7)"/><use href="#s" transform="translate(1277 1403)scale(7 7)"/><use href="#l" transform="translate(1407 1442)scale(12 14)"/><use href="#s" transform="translate(1382 1440)scale(7 7)"/><use href="#s" transform="translate(1378 1462)scale(6 6)"/><use href="#D" transform="translate(1205 1503)scale(30 22)"/><use href="#s" transform="translate(1235 1460)scale(15 15)"/>
<use href="#l" transform="translate(930 750)scale(11 14)"/><use href="#c" transform="translate(961 1018)scale(11 13)"/><use href="#l" transform="translate(627 1032)scale(10 12)"/><use href="#l" transform="translate(612 1045)scale(10 11)"/><use href="#l" transform="translate(609 1385)scale(5 6)"/><use href="#l" transform="translate(619 1402)scale(5 6)"/>
</g>

<!-- PANEL 6 -->
<g transform="translate(1310 600)scale(.44 .3469)">
<rect x="42" y="322" width="1491" height="1216" fill="#f8dcdc"/>
<path d="M578,722L578,782C480,790 400,860 385,950C380,850 450,730 578,722Z" fill="#dcb9a5"/>
<path d="M385,950C400,1030 450,1090 530,1110L530,1075L578,1135L530,1190L530,1160C440,1140 370,1050 385,950Z" fill="#f1c3ae"/>
<path d="M1170,950C1160,860 1090,790 1026,780L1026,828L978,760L1026,710L1026,745C1110,760 1180,850 1170,950Z" fill="#f4c9ad"/>
<path d="M978,1118C1070,1110 1150,1050 1170,950C1180,1070 1090,1175 978,1178Z" fill="#dcb9a5"/>
<g fill="none" stroke="#c98fb5" stroke-width="9" stroke-linecap="round">
<path d="M1290,710C1270,690 1270,660 1268,637M1268,680L1245,685M1340,705C1330,670 1350,660 1360,595M1345,655L1368,690M1290,745C1270,770 1270,830 1275,870M1270,790L1252,760M1340,745C1360,770 1400,760 1430,750M1350,755C1360,790 1400,780 1420,830"/>
<path d="M845,1290C810,1280 790,1300 787,1312M820,1290L810,1320M885,1285C895,1260 895,1240 890,1215M880,1310C910,1305 930,1320 925,1350M855,1310C850,1330 830,1335 825,1335M860,1310L857,1365M850,1270L855,1245"/>
</g>
<ellipse cx="1315" cy="727" rx="33" ry="26" fill="#e9b4d0" stroke="#8a7a80" stroke-width="3"/><ellipse cx="1317" cy="727" rx="12" ry="18" fill="#b888ae" stroke="#555" stroke-width="3"/>
<ellipse cx="865" cy="1297" rx="24" ry="22" fill="#e9b4d0"/><ellipse cx="865" cy="1297" rx="11" ry="12" fill="#b888ae" stroke="#555" stroke-width="3"/>
<g fill="none" stroke="#5c5658" stroke-width="8" stroke-linecap="round">
<path d="M300,950C285,945 285,930 290,920M280,950L278,965M335,945C345,930 340,905 338,890M345,950L325,930M300,985C285,995 300,1020 292,1050M285,1000L300,1020M335,985C360,1000 370,990 382,985M360,995L375,1030"/>
<path d="M1240,1200C1225,1190 1215,1180 1230,1160M1215,1190L1232,1195M1285,1205C1300,1190 1300,1175 1275,1165M1245,1235C1225,1250 1225,1280 1240,1280M1285,1230C1300,1260 1330,1240 1338,1235M1300,1245L1330,1290"/>
</g>
<ellipse cx="318" cy="968" rx="22" ry="20" fill="#e9b4d0" stroke="#666" stroke-width="3"/><ellipse cx="320" cy="968" rx="8" ry="11" fill="#7a3a90"/>
<ellipse cx="1262" cy="1218" rx="26" ry="22" fill="#e9b4d0" stroke="#666" stroke-width="3"/><ellipse cx="1262" cy="1218" rx="8" ry="9" fill="#e9b4d0" stroke="#555" stroke-width="3"/>
<use href="#c" transform="translate(258 640)scale(13 18)"/><use href="#c" transform="translate(383 688)scale(14 18)"/><use href="#c" transform="translate(408 737)scale(14 18)"/><use href="#c" transform="translate(950 634)scale(13 18)"/><use href="#c" transform="translate(977 671)scale(13 18)"/><use href="#c" transform="translate(1113 683)scale(13 18)"/><use href="#c" transform="translate(904 861)scale(11 15)"/><use href="#c" transform="translate(233 947)scale(11 15)"/><use href="#c" transform="translate(165 1056)scale(11 15)"/><use href="#c" transform="translate(323 1065)scale(11 15)"/><use href="#c" transform="translate(156 1120)scale(13 19)"/><use href="#c" transform="translate(873 1175)scale(11 15)"/><use href="#c" transform="translate(759 1340)scale(11 15)"/><use href="#c" transform="translate(1242 1135)scale(11 15)"/><use href="#c" transform="translate(1306 1318)scale(11 15)"/><use href="#c" transform="translate(608 1192)scale(29 32)"/>
<ellipse cx="1074" cy="975" rx="19" ry="27" fill="#a673a8" stroke="#555" stroke-width="4"/><ellipse cx="1077" cy="1218" rx="19" ry="27" fill="#a673a8" stroke="#555" stroke-width="4"/>
<use href="#s" transform="translate(331 1345)scale(18 27)"/>
<path d="M318,1250C308,1265 308,1285 316,1300" fill="none" stroke="#fbeaea" stroke-width="3"/>
</g>

<!-- FRAMES -->
<g fill="none" stroke="#111" stroke-width="3">
<rect x="15.6" y="90.4" width="602.4" height="447.6"/>
<rect x="677.5" y="88.6" width="587.5" height="446.4"/>
<rect x="1328.5" y="89.3" width="656" height="446.3"/>
<rect x="16" y="711.7" width="602" height="186.6"/>
<rect x="680" y="712.7" width="576" height="420.8"/>
<rect x="1328.5" y="711.7" width="656" height="421.8"/>
</g>

<!-- Impeller over frame -->
<g transform="translate(1310 600)scale(.44 .3469)">
<rect x="714" y="290" width="62" height="50" fill="#fff"/>
<rect x="722" y="295" width="48" height="690" fill="#b2bccb" stroke="#5a5a5a" stroke-width="2"/>
<rect x="762" y="295" width="6" height="690" fill="#f2f4f7"/>
<path d="M640,738L840,655L855,708L652,793Z" fill="#fff" stroke="#222" stroke-width="9" stroke-linejoin="round"/>
<path d="M650,738L835,665L846,703L660,782Z" fill="#b2bccb"/>
<path d="M555,960L935,1017L935,1092L552,1035Z" fill="#fff" stroke="#222" stroke-width="10" stroke-linejoin="round"/>
<path d="M562,975L926,1028L926,1076L560,1022Z" fill="#b2bccb"/>
<path d="M693,230C695,300 790,300 798,245" fill="none" stroke="#2e5ba1" stroke-width="11"/>
<path d="M782,245L800,230L811,260Z" fill="#2e5ba1"/>
</g>

<!-- TITLES -->
<text x="233" y="61.5" textLength="170" lengthAdjust="spacingAndGlyphs" font-style="italic">IN VIVO</text>
<text x="823" y="61.5" textLength="289" lengthAdjust="spacingAndGlyphs">2D CULTURE</text>
<text x="1508" y="61.5" textLength="288" lengthAdjust="spacingAndGlyphs">3D CULTURE</text>
<text x="87" y="667" textLength="459" lengthAdjust="spacingAndGlyphs">MICROFLUIDIC CHIP</text>
<text x="778" y="667" textLength="381" lengthAdjust="spacingAndGlyphs">3D BIOREACTOR</text>
<text x="1382" y="667" textLength="542" lengthAdjust="spacingAndGlyphs">BIG TANK BIOREACTOR</text>
</svg>
</body></html>
